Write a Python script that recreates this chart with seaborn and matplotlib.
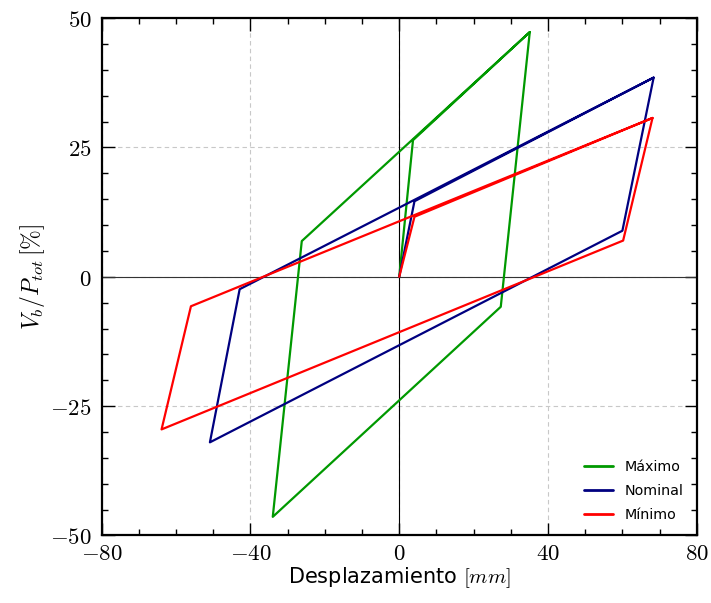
import matplotlib
matplotlib.use("Agg")
import matplotlib.pyplot as plt
import seaborn as sns
import pandas as pd
from matplotlib.ticker import MultipleLocator

# Data (displacement in mm, Vb/Ptot in %)
max_x = [0.0, 3.7, 35.1, 27.3, -34.0, -26.2, 35.1]
max_y = [0.0, 26.4, 47.3, -5.8, -46.4, 6.9, 47.3]
nom_x = [0.0, 4.1, 68.4, 60.0, -50.9, -42.9, 68.4]
nom_y = [0.0, 14.6, 38.5, 8.9, -32.0, -2.4, 38.5]
min_x = [0.0, 4.1, 68.1, 60.2, -63.9, -56.0, 68.1]
min_y = [0.0, 11.6, 30.7, 7.0, -29.5, -5.7, 30.7]
series = ["Máximo", "Nominal", "Mínimo"]
colors = ["#009900", "#000080", "#ff0000"]

x_ticks = [-80, -40, 0, 40, 80]
y_ticks = [-50, -25, 0, 25, 50]

frames = []
for name, xs, ys in zip(series, [max_x, nom_x, min_x], [max_y, nom_y, min_y]):
    frames.append(pd.DataFrame({"x": xs, "y": ys, "serie": name, "order": range(len(xs))}))
df = pd.concat(frames, ignore_index=True)

sns.set_style("white")
plt.rcParams["font.family"] = ["DejaVu Sans"]
plt.rcParams["mathtext.fontset"] = "cm"
plt.rcParams["text.color"] = "black"
plt.rcParams["axes.labelcolor"] = "black"
plt.rcParams["xtick.color"] = "black"
plt.rcParams["ytick.color"] = "black"

fig = plt.figure(figsize=(7.11, 6.03), dpi=100)
ax = fig.add_axes([0.143, 0.112, 0.837, 0.858])

ax.grid(True, which="major", linestyle=(0, (4, 3)), color="#c8c8c8", linewidth=0.8)
ax.axhline(0, color="#333333", linewidth=0.8, zorder=1)
ax.axvline(0, color="black", linewidth=0.8, zorder=1)

sns.lineplot(data=df, x="x", y="y", hue="serie", hue_order=series,
             palette=colors, sort=False, estimator=None, units="serie",
             linewidth=1.6, ax=ax, zorder=3)

ax.set_xlim(-80, 80)
ax.set_ylim(-50, 50)
ax.set_xticks(x_ticks)
ax.set_yticks(y_ticks)
ax.set_xticklabels([f"${v}$" for v in x_ticks])
ax.set_yticklabels([f"${v}$" for v in y_ticks])
ax.xaxis.set_minor_locator(MultipleLocator(10))
ax.yaxis.set_minor_locator(MultipleLocator(5))
ax.tick_params(which="both", direction="in", top=True, right=True, bottom=True, left=True,
               labelsize=16.5, width=1.0, color="black", labelcolor="black")
ax.tick_params(which="major", length=9)
ax.tick_params(axis="y", which="major", pad=7)
ax.tick_params(axis="x", which="major", pad=5)
ax.tick_params(which="minor", length=4.5)
for s in ax.spines.values():
    s.set_visible(True)
    s.set_color("black")
    s.set_linewidth(1.6)

ax.set_xlabel("Desplazamiento $[mm]$", fontsize=15, labelpad=0, color="black")
ax.set_ylabel("$V_b/P_{tot}\\,[\\%]$", fontsize=17, labelpad=2, color="black")

leg = ax.legend(loc="lower right", frameon=False, fontsize=10.3, handlelength=2.0,
                borderaxespad=0.55, labelspacing=0.7)
for line in leg.get_lines():
    line.set_linewidth(2.0)
for t in leg.get_texts():
    t.set_color("black")

fig.savefig("out.png", dpi=100)
